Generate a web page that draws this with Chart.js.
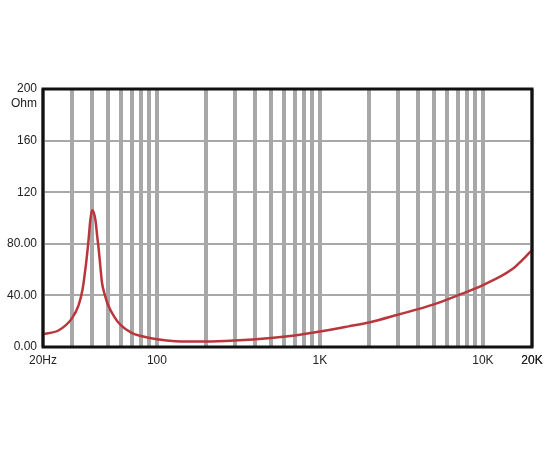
<!DOCTYPE html>
<html><head><script src="https://cdn.jsdelivr.net/npm/chart.js@4"></script>
<style>html,body{margin:0;background:#fff}#w{width:550px;height:450px}</style></head>
<body><div id="w"><canvas id="c"></canvas></div>
<script>
const freqs = [20,25,30,33,35,37,38,39,40,41,42,43,44,45,46,48,50,55,60,70,80,100,130,200,300,500,700,1000,1500,2000,3000,5000,7000,10000,15000,20000];
const ohms  = [10,13,22,32,45,68,82,98,106,104,98,86,75,62,50,40,33,23,17,11,8.5,6,4.5,4.2,5,7,9,12,16,19,25,33,40,48,60,75];
const xLabels = {20:'20Hz',100:'100',1000:'1K',10000:'10K',20000:'20K'};
const yLabels = {0:'0.00',40:'40.00',80:'80.00',120:'120',160:'160',200:'200'};
const gridFreqs = [];
[10,100,1000,10000].forEach(d=>{for(let m=1;m<10;m++){const f=d*m;if(f>=20&&f<=20000)gridFreqs.push(f);}});
gridFreqs.push(20000);

const border = {id:'border',afterDraw(ch){const a=ch.chartArea,c=ch.ctx;c.save();c.strokeStyle='#111';c.lineWidth=3;c.strokeRect(a.left,a.top,a.right-a.left,a.bottom-a.top);
c.fillStyle='#222';c.font='12px "Liberation Sans", Arial';c.textAlign='right';c.textBaseline='middle';c.fillText('Ohm',a.left-6,a.top+15);c.restore();}};

const tf = {family:'"Liberation Sans", Arial',size:12,weight:'normal'};
new Chart(document.getElementById('c'),{type:'line',
data:{datasets:[{data:freqs.map((f,i)=>({x:f,y:ohms[i]})),borderColor:'#b8363c',borderWidth:2.5,pointRadius:0,tension:0.4,cubicInterpolationMode:'monotone'}]},
options:{responsive:true,maintainAspectRatio:false,animation:false,
layout:{padding:{left:0,right:18,top:89,bottom:78}},
plugins:{legend:{display:false},tooltip:{enabled:false}},
scales:{
x:{type:'logarithmic',min:20,max:20000,
 afterBuildTicks(s){s.ticks=gridFreqs.map(v=>({value:v,major:false}));},
 afterFit(s){s.height=25;},
 grid:{color:'#a8a8a8',lineWidth:4,drawTicks:false},border:{display:false},
 ticks:{autoSkip:false,maxRotation:0,padding:6,color:'#222',font:tf,major:{enabled:false},callback:v=>xLabels[v]||''}},
y:{min:0,max:200,
 afterBuildTicks(s){s.ticks=[0,40,80,120,160,200].map(v=>({value:v}));},
 afterFit(s){s.width=43;},
 grid:{color:'#a8a8a8',lineWidth:2,drawTicks:false},border:{display:false},
 ticks:{padding:6,color:'#222',font:tf,callback:v=>yLabels[v]}}
}},plugins:[border]});
</script></body></html>
